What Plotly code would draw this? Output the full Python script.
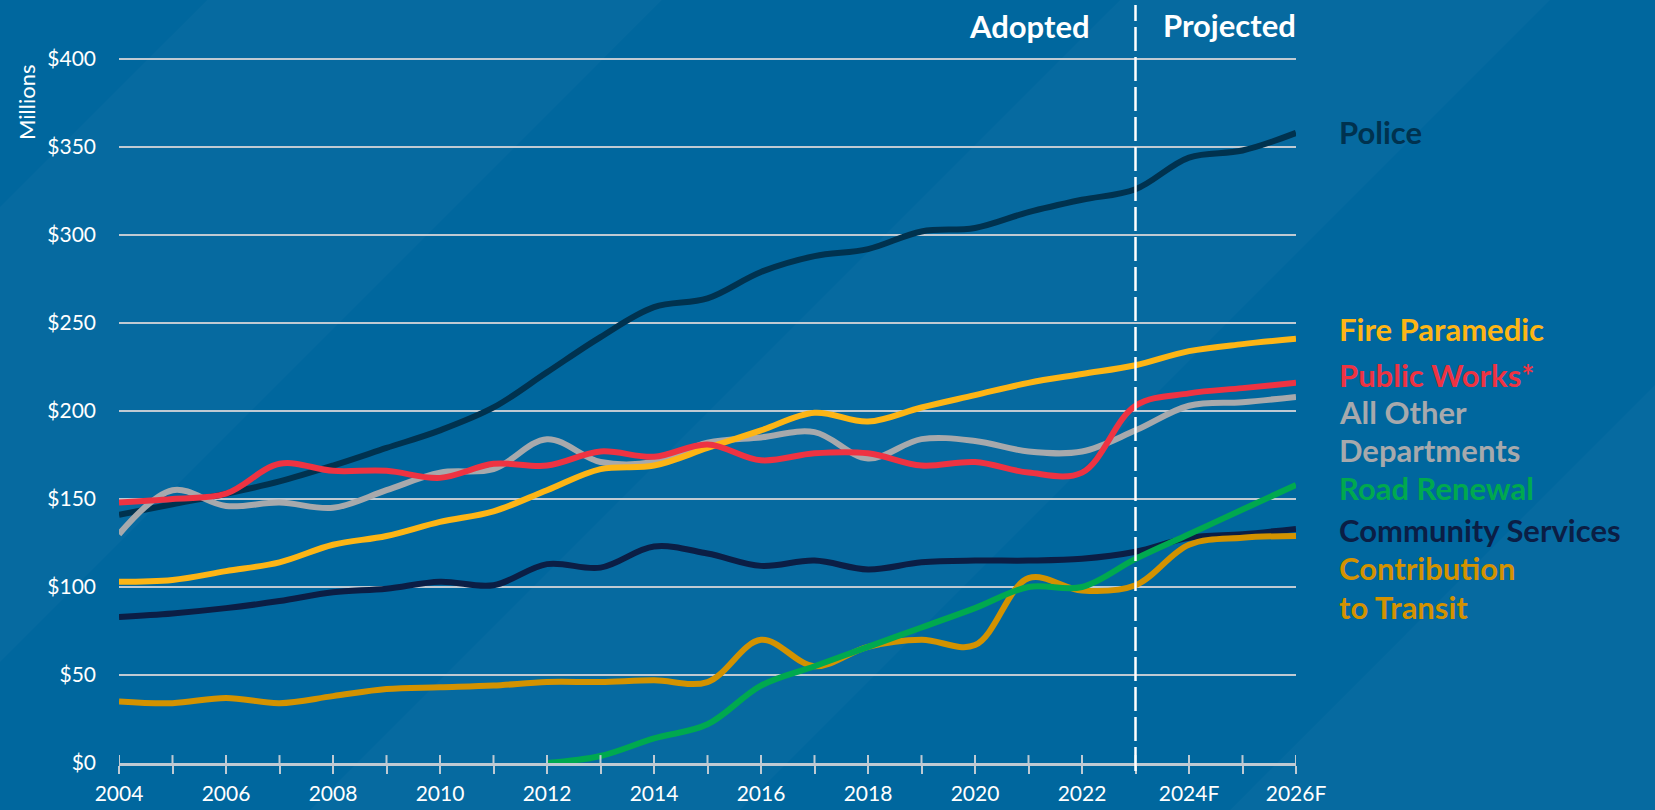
import plotly.graph_objects as go

# ---- data (millions of dollars) ----
years = list(range(2004, 2027))
year_labels = [("2024F" if y == 2024 else "2026F" if y == 2026 else str(y)) if y % 2 == 0 else "" for y in years]

police = [141, 147, 153, 160, 169, 179, 189, 202, 222, 242, 259, 264, 279, 288, 292, 302, 304, 313, 320, 326, 344, 348, 358]
fire_paramedic = [103, 104, 109, 114, 124, 129, 137, 143, 155, 167, 169, 179, 189, 199, 194, 202, 209, 216, 221, 226, 234, 238, 241]
public_works = [148, 150, 153, 170, 166, 166, 162, 170, 169, 177, 174, 181, 172, 176, 176, 169, 171, 165, 165, 203, 210, 213, 216]
all_other = [130, 155, 146, 148, 145, 155, 165, 167, 184, 171, 171, 182, 185, 188, 173, 184, 183, 177, 177, 189, 203, 205, 208]
community_services = [83, 85, 88, 92, 97, 99, 103, 101, 113, 111, 123, 119, 112, 115, 110, 114, 115, 115, 116, 120, 128, 130, 133]
transit = [35, 34, 37, 34, 38, 42, 43, 44, 46, 46, 47, 46, 70, 55, 66, 70, 67, 105, 98, 101, 124, 128, 129]
road_years = list(range(2012, 2027))
road_renewal = [0, 4, 14, 22, 44, 55, 66, 77, 88, 100, 100, 116, 130, 144, 158]

y_ticks = [0, 50, 100, 150, 200, 250, 300, 350, 400]
y_tick_text = [f"${v}" for v in y_ticks]

# ---- styling ----
W, H = 1655, 810
ML, MR, MT, MB = 119, 359, 0, 47
PW, PH = W - ML - MR, H - MT - MB
BG = "#00679E"
BG_LIGHT = "rgba(255,255,255,0.022)"
GRID = "#BFCAD3"
FONT = "Lato"
LABEL_SIZE = 31

C_POLICE = "#00324F"
C_FIRE = "#FDB515"
C_PW = "#EE3342"
C_OTHER = "#A7A9AC"
C_ROAD = "#00A94F"
C_COMM = "#0B1E45"
C_TRANSIT = "#D39200"


def px_x(px):
    return (px - ML) / PW


def px_y(py):
    return (H - MB - py) / PH


fig = go.Figure()

series = [
    (years, police, C_POLICE),
    (years, all_other, C_OTHER),
    (years, fire_paramedic, C_FIRE),
    (years, public_works, C_PW),
    (years, community_services, C_COMM),
    (years, transit, C_TRANSIT),
    (road_years, road_renewal, C_ROAD),
]
for xs, ys, col in series:
    fig.add_trace(go.Scatter(
        x=xs, y=ys, mode="lines",
        line=dict(color=col, width=6, shape="spline", smoothing=1.0),
        hoverinfo="skip", showlegend=False,
    ))

shapes = []
# diagonal background bands
for c1, c2 in [(207, 662), (1120, 1550), (2040, 2600)]:
    pts = [(c1, 0), (c2, 0), (c2 - 900, 900), (c1 - 900, 900)]
    path = "M " + " L ".join(f"{px_x(x):.4f},{px_y(y):.4f}" for x, y in pts) + " Z"
    shapes.append(dict(type="path", path=path, xref="paper", yref="paper",
                       fillcolor=BG_LIGHT, line=dict(width=0), layer="below"))

# upper half of the crossing tick marks on the x axis
for yr in years:
    shapes.append(dict(type="line", xref="x", yref="y", x0=yr, x1=yr, y0=0, y1=4.5,
                       line=dict(color=GRID, width=2), layer="above"))

# adopted / projected divider
shapes.append(dict(type="line", xref="x", yref="paper", x0=2023, x1=2023,
                   y0=px_y(771), y1=px_y(5),
                   line=dict(color="white", width=2.5, dash="24px,6px"), layer="above"))

annotations = [
    dict(text="Millions", x=px_x(26), y=px_y(103), xref="paper", yref="paper",
         textangle=-90, showarrow=False, font=dict(family=FONT, size=22, color="white"),
         xanchor="center", yanchor="middle"),
    dict(text="Adopted", x=px_x(1092), y=px_y(26), xref="paper", yref="paper",
         showarrow=False, xanchor="right", yanchor="middle",
         font=dict(family=FONT, size=LABEL_SIZE, color="white", weight="bold")),
    dict(text="Projected", x=px_x(1161), y=px_y(25), xref="paper", yref="paper",
         showarrow=False, xanchor="left", yanchor="middle",
         font=dict(family=FONT, size=LABEL_SIZE, color="white", weight="bold")),
]

labels = [
    ("Police", C_POLICE, 132),
    ("Fire Paramedic", C_FIRE, 329),
    ("Public Works*", C_PW, 375),
    ("All Other", C_OTHER, 412),
    ("Departments", C_OTHER, 450),
    ("Road Renewal", C_ROAD, 488),
    ("Community Services", C_COMM, 530),
    ("Contribution", C_TRANSIT, 568),
    ("to Transit", C_TRANSIT, 607),
]
for text, col, py in labels:
    annotations.append(dict(
        text=text, x=px_x(1337), y=px_y(py), xref="paper", yref="paper",
        showarrow=False, xanchor="left", yanchor="middle",
        font=dict(family=FONT, size=LABEL_SIZE, color=col, weight="bold"),
    ))

fig.update_layout(
    width=W, height=H,
    margin=dict(l=ML, r=MR, t=MT, b=MB, pad=0),
    paper_bgcolor=BG, plot_bgcolor="rgba(0,0,0,0)",
    font=dict(family=FONT, color="white"),
    shapes=shapes, annotations=annotations,
    xaxis=dict(
        range=[2004, 2026], tickmode="array", tickvals=years, ticktext=year_labels,
        ticks="outside", ticklen=8, tickwidth=2, tickcolor=GRID,
        showline=True, linecolor=GRID, linewidth=2.5,
        showgrid=False, zeroline=False, fixedrange=True,
        tickfont=dict(family=FONT, size=21, color="white"),
        ticklabelstandoff=2,
    ),
    yaxis=dict(
        range=[0, PH / 1.76], tickmode="array", tickvals=y_ticks, ticktext=y_tick_text,
        showgrid=True, gridcolor=GRID, gridwidth=2,
        zeroline=False, showline=False, ticks="", fixedrange=True,
        tickfont=dict(family=FONT, size=21, color="white"),
        ticklabelstandoff=22,
    ),
)

fig.write_html("out.html")
